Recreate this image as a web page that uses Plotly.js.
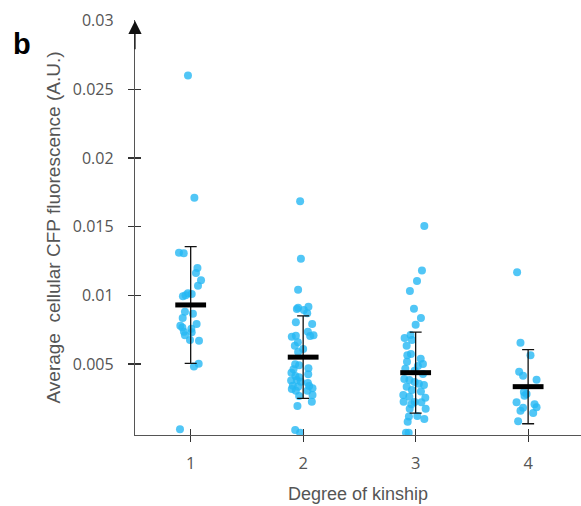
<!DOCTYPE html>
<html>
<head>
<meta charset="utf-8">
<script src="https://cdn.plot.ly/plotly-3.0.1.min.js"></script>
<style>html,body{margin:0;padding:0;background:#fff;}#chart{width:581px;height:506px;}</style>
</head>
<body>
<div id="chart"></div>
<script>
// ---- data ----
const categories = [1, 2, 3, 4];
const tickLabels = ['1', '2', '3', '4'];
const yTickVals = [0.005, 0.01, 0.015, 0.02, 0.025, 0.03];
const yTickText = ['0.005', '0.01', '0.015', '0.02', '0.025', '0.03'];

const g1Values = [0.0260, 0.01711, 0.01311, 0.01306, 0.01199, 0.01163, 0.0111, 0.0107, 0.0101, 0.01015, 0.00993, 0.0100, 0.00881, 0.00866, 0.00835, 0.00791, 0.00779, 0.00765, 0.00757, 0.00735, 0.00731, 0.00709, 0.00675, 0.0067, 0.00502, 0.00481, 0.00025];
const g1Jitter = [-0.024, 0.033, -0.104, -0.062, 0.060, 0.047, 0.092, 0.065, 0.009, -0.024, -0.069, -0.045, -0.051, 0.020, -0.071, 0.053, -0.092, -0.074, 0.006, -0.060, 0.009, -0.051, -0.006, 0.074, 0.071, 0.029, -0.095];

const g2Values = [0.01685, 0.01267, 0.01041, 0.00901, 0.0091, 0.00893, 0.00917, 0.00869, 0.00804, 0.00791, 0.00735, 0.00709, 0.00704, 0.00699, 0.00706, 0.00658, 0.00633, 0.00609, 0.00588, 0.00498, 0.00491, 0.00469, 0.00462, 0.00437, 0.00425, 0.00413, 0.00403, 0.00379, 0.00384, 0.00371, 0.00362, 0.00342, 0.00335, 0.0034, 0.00323, 0.00318, 0.00306, 0.00306, 0.00275, 0.00267, 0.00226, 0.00194, 0.0002, 0.0];
const g2Jitter = [-0.027, -0.020, -0.045, -0.056, -0.045, 0.006, 0.047, 0.036, -0.065, 0.080, 0.042, 0.092, 0.062, -0.101, -0.065, -0.047, -0.074, 0.0, -0.045, -0.071, -0.036, 0.047, -0.086, -0.104, 0.045, -0.069, -0.036, -0.107, -0.056, -0.020, 0.042, -0.092, -0.045, 0.053, 0.083, -0.101, -0.065, 0.038, 0.083, -0.036, 0.077, -0.051, -0.071, -0.027];

const g3Values = [0.01505, 0.0118, 0.01105, 0.01032, 0.00903, 0.00835, 0.00786, 0.00711, 0.0069, 0.00675, 0.00633, 0.00573, 0.00564, 0.00539, 0.00517, 0.0050, 0.00486, 0.00466, 0.00451, 0.00427, 0.00391, 0.00384, 0.00369, 0.00357, 0.00347, 0.00335, 0.00311, 0.00299, 0.00275, 0.00262, 0.00255, 0.00226, 0.00224, 0.00221, 0.00175, 0.00175, 0.00207, 0.00117, 0.00122, 0.0010, 0.0008, 0.0, 0.0];
const g3Jitter = [0.077, 0.056, 0.012, -0.051, -0.015, 0.047, 0.0, -0.045, -0.098, -0.033, -0.080, -0.042, -0.074, 0.045, -0.077, 0.065, 0.020, -0.092, -0.009, 0.065, -0.101, -0.056, -0.009, 0.029, 0.074, -0.080, -0.033, 0.047, -0.110, -0.056, 0.086, -0.107, -0.009, 0.051, 0.089, -0.053, -0.038, -0.060, 0.015, 0.077, -0.071, -0.086, -0.062];

const g4Values = [0.01168, 0.00655, 0.00564, 0.00444, 0.00415, 0.00386, 0.00296, 0.00282, 0.00269, 0.00221, 0.00207, 0.00182, 0.00185, 0.0016, 0.00143, 0.00083];
const g4Jitter = [-0.098, -0.068, 0.021, -0.080, -0.045, 0.075, -0.038, -0.014, -0.032, -0.103, 0.057, -0.045, 0.075, -0.068, 0.045, -0.089];

const groupMeans = [0.0093, 0.0055, 0.00437, 0.00335];
const groupSD = [0.00425, 0.0030, 0.00295, 0.0027];

// ---- build traces ----
const groups = [
  {v: g1Values, j: g1Jitter},
  {v: g2Values, j: g2Jitter},
  {v: g3Values, j: g3Jitter},
  {v: g4Values, j: g4Jitter}
];
const ptX = [], ptY = [];
groups.forEach((g, i) => {
  g.v.forEach((val, k) => { ptX.push(categories[i] + g.j[k]); ptY.push(val); });
});

const FONT = '"Open Sans", "Liberation Sans", Arial, sans-serif';
const TFONT = '"Liberation Sans", Arial, sans-serif';
const yRange = [-0.00017, 0.03005];
const xRange = [0.505, 4.47];

const traces = [
  {
    type: 'scatter', mode: 'markers', x: ptX, y: ptY,
    marker: {size: 8, color: 'rgba(38,184,244,0.8)', line: {width: 0}},
    hoverinfo: 'skip', showlegend: false
  },
  {
    type: 'scatter', mode: 'markers', x: categories, y: groupMeans,
    error_y: {type: 'data', array: groupSD, visible: true, color: '#111', thickness: 1.3, width: 6},
    marker: {symbol: 'line-ew', size: 22, color: '#000', line: {width: 5, color: '#000'}},
    hoverinfo: 'skip', showlegend: false
  },
  {type: 'scatter', x: [null], y: [null], xaxis: 'x2', yaxis: 'y2', showlegend: false, hoverinfo: 'skip'},
  {type: 'scatter', x: [null], y: [null], xaxis: 'x3', yaxis: 'y3', showlegend: false, hoverinfo: 'skip'}
];

const tickAxisY = (side) => ({
  overlaying: 'y', range: yRange, tickmode: 'array', tickvals: yTickVals.slice(0, 5),
  ticks: side, ticklen: 6, tickwidth: 1.2, tickcolor: '#333',
  showticklabels: false, showgrid: false, zeroline: false, showline: false, anchor: 'x'
});
const tickAxisX = (side) => ({
  overlaying: 'x', range: xRange, tickmode: 'array', tickvals: categories,
  ticks: side, ticklen: 6, tickwidth: 1.2, tickcolor: '#333',
  showticklabels: false, showgrid: false, zeroline: false, showline: false, anchor: 'y'
});

const layout = {
  width: 581, height: 506,
  margin: {l: 135, r: 0, t: 20, b: 71},
  paper_bgcolor: '#fff', plot_bgcolor: '#fff',
  font: {family: FONT, color: '#555'},
  showlegend: false,
  xaxis: {
    range: xRange, tickmode: 'array', tickvals: categories, ticktext: tickLabels,
    ticks: '', ticklabelstandoff: 13, tickfont: {size: 16.5, color: '#555', family: FONT},
    showline: true, linecolor: '#555', linewidth: 1.2, showgrid: false, zeroline: false,
    title: {text: 'Degree of kinship', font: {size: 18, color: '#555', family: TFONT}, standoff: 14}
  },
  yaxis: {
    range: yRange, tickmode: 'array', tickvals: yTickVals, ticktext: yTickText,
    ticks: '', ticklabelstandoff: 17, tickfont: {size: 16, color: '#555', family: FONT},
    showline: true, linecolor: '#555', linewidth: 1.2, showgrid: false, zeroline: false,
    title: {text: 'Average  cellular CFP fluorescence (A.U.)', font: {size: 19, color: '#555', family: TFONT}, standoff: 7}
  },
  xaxis2: tickAxisX('outside'),
  xaxis3: tickAxisX('inside'),
  yaxis2: tickAxisY('outside'),
  yaxis3: tickAxisY('inside'),
  annotations: [
    {
      xref: 'paper', yref: 'y', x: 0, y: 0.030, ax: 0, ay: 30, axref: 'pixel', ayref: 'pixel',
      showarrow: true, arrowhead: 2, arrowsize: 2.2, arrowwidth: 1.2, arrowcolor: '#111', text: ''
    },
    {
      xref: 'paper', yref: 'paper', x: -0.278, y: 0.985, xanchor: 'left', yanchor: 'top',
      text: '<b>b</b>', showarrow: false,
      font: {size: 29, color: '#000', family: '"Liberation Sans", Arial, sans-serif'}
    }
  ]
};

Plotly.newPlot('chart', traces, layout, {displayModeBar: false, staticPlot: true});
</script>
</body>
</html>
